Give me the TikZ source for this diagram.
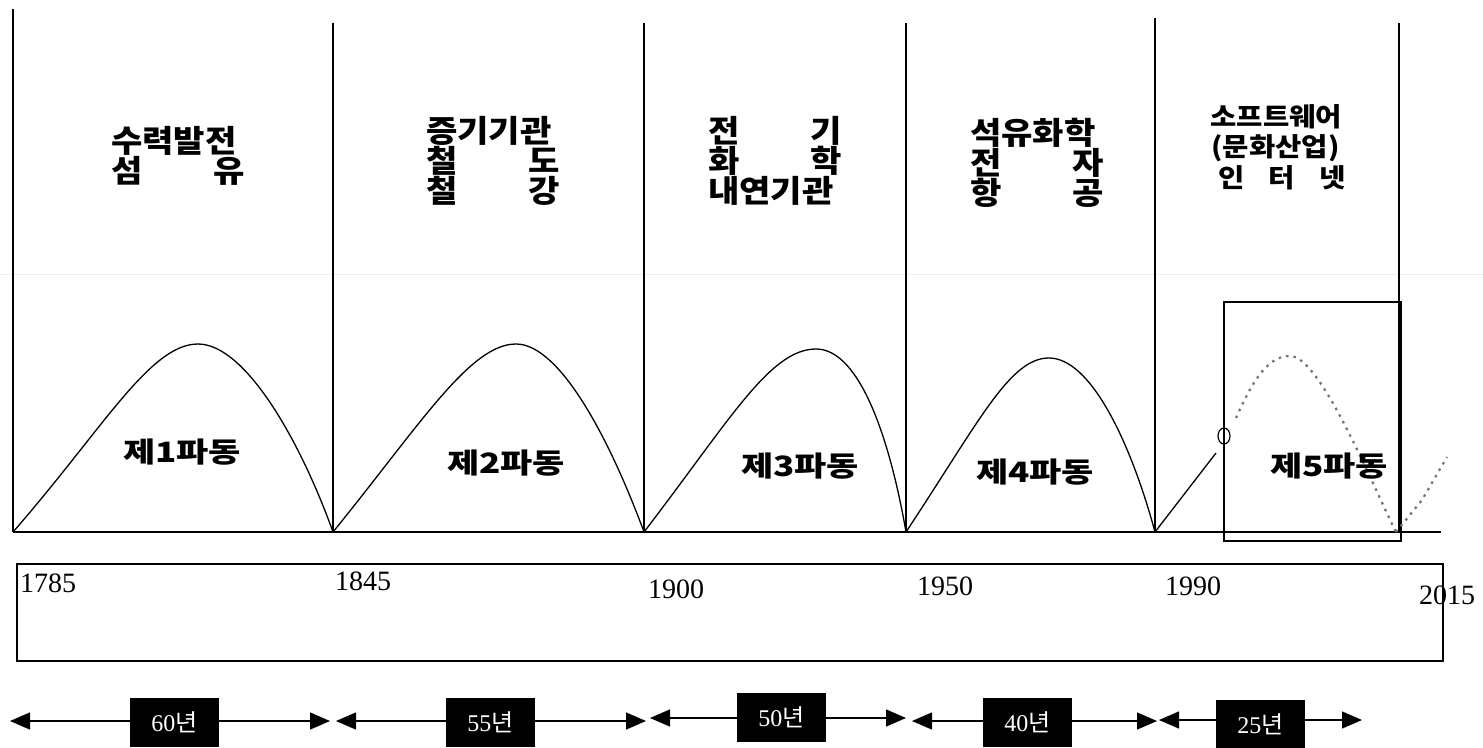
\documentclass[tikz,border=0pt]{standalone}
\usepackage{fontspec}
\setmainfont{Noto Sans CJK KR}
\newfontfamily\krwide{Noto Sans CJK KR}[FakeStretch=1.1]
\newfontfamily\krwider{Noto Sans CJK KR}[FakeStretch=1.25]
\newfontfamily\digits{Liberation Serif}
\usetikzlibrary{arrows.meta}
\usetikzlibrary{positioning}
\newcommand{\jrow}[2][134pt]{\makebox[#1][s]{#2}}
\tikzset{
  sanup/.style={align=center, inner sep=0pt, font=\krwide\bfseries\fontsize{31}{29}\selectfont},
  padong/.style={inner sep=0pt, font=\krwider\bfseries\fontsize{28}{28}\selectfont},
  yeondo/.style={inner sep=0pt, font=\digits\fontsize{28}{28}\selectfont},
  gigan/.style={fill=black, text=white, minimum width=89pt, minimum height=49pt, inner sep=0pt, font=\fontsize{24}{24}\selectfont},
  gyeonggye/.style={line width=1.6pt},
  gokseon/.style={line width=1.3pt, line join=round},
  jeomseon/.style={line width=2.2pt, black!55, dash pattern=on 2.5pt off 5pt},
  seta/.style={{Triangle[length=20pt,width=17pt]}-{Triangle[length=20pt,width=17pt]}, line width=1.3pt},
}

\begin{document}
\begin{tikzpicture}[x=1pt, y=-1pt]
  \useasboundingbox[fill=white] (0,0) rectangle (1483,747);
  \draw[black!7, line width=1pt] (0,274) -- (1483,274);

  % period dividers and base line
  \draw[gyeonggye] (13,9) -- (13,532);
  \draw[gyeonggye] (333,23) -- (333,532);
  \draw[gyeonggye] (644,23) -- (644,532);
  \draw[gyeonggye] (906,23) -- (906,532);
  \draw[gyeonggye] (1155,18) -- (1155,532);
  \draw[gyeonggye] (1399,23) -- (1399,532);
  \draw[gyeonggye] (13,532) -- (1441,532);
  \draw[gyeonggye] (1224,302) rectangle (1401,541);

  \node[sanup] (sanup1) at (178,156) {\jrow{수력발전}\\\jrow{섬\hfill 유}};
  \node[sanup] (sanup2) at (493,161) {\jrow{증기기관}\\\jrow{철\hfill 도}\\\jrow{철\hfill 강}};
  \node[sanup] (sanup3) at (775,161) {\jrow{전\hfill 기}\\\jrow{화\hfill 학}\\\jrow{내연기관}};
  \node[sanup] (sanup4) at (1037,163) {\jrow{석유화학}\\\jrow{전\hfill 자}\\\jrow{항\hfill 공}};
  \node[sanup, font=\krwide\bfseries\fontsize{26}{30.5}\selectfont] (sanup5) at (1282,147)
    {\jrow[143pt]{소프트웨어}\\\jrow[141pt]{(문화산업)}\\\jrow[128pt]{인\hfill 터\hfill 넷}};

  % waves
  \draw[gokseon] (13,532) .. controls (103,429) and (150,344) .. (198,344)
    .. controls (245,344) and (300,440) .. (333,532);
  \draw[gokseon] (333,532) .. controls (420,425) and (470,344) .. (516,344)
    .. controls (560,344) and (610,440) .. (644,532);
  \draw[gokseon] (644,532) .. controls (730,420) and (770,349) .. (816,349)
    .. controls (860,349) and (890,440) .. (906,532);
  \draw[gokseon] (906,532) .. controls (980,420) and (1010,358) .. (1049,358)
    .. controls (1090,358) and (1130,440) .. (1155,532);
  \draw[gokseon] (1155,532) -- (1216,453);
  \draw[line width=1.2pt] (1224,436) ellipse [x radius=6, y radius=8];
  \draw[jeomseon] (1236,418) .. controls (1255,375) and (1270,356) .. (1290,356)
    .. controls (1320,356) and (1370,480) .. (1396,532);
  \draw[jeomseon] (1396,532) -- (1422,500) -- (1447,457);

  \node[padong] (padong1) at (182,452) {제1파동};
  \node[padong] (padong2) at (506,463) {제2파동};
  \node[padong] (padong3) at (800,466) {제3파동};
  \node[padong] (padong4) at (1035,472) {제4파동};
  \node[padong] (padong5) at (1329,466) {제5파동};

  % years
  \draw[gyeonggye, line width=1.4pt] (17,564) rectangle (1443,661);
  \node[yeondo] (y1785) at (48,583) {1785};
  \node[yeondo] (y1845) at (363,581) {1845};
  \node[yeondo] (y1900) at (676,589) {1900};
  \node[yeondo] (y1950) at (945,586) {1950};
  \node[yeondo] (y1990) at (1193,586) {1990};
  \node[yeondo] (y2015) at (1447,595) {2015};

  % cycle lengths
  \coordinate (s1) at (10,721);   \coordinate (e1) at (330,721);
  \coordinate (s2) at (336,721);  \coordinate (e2) at (646,721);
  \coordinate (s3) at (650,718);  \coordinate (e3) at (906,718);
  \coordinate (s4) at (912,721);  \coordinate (e4) at (1157,721);
  \coordinate (s5) at (1159,720); \coordinate (e5) at (1362,720);
  \draw[seta] (s1) -- (e1);
  \draw[seta] (s2) -- (e2);
  \draw[seta] (s3) -- (e3);
  \draw[seta] (s4) -- (e4);
  \draw[seta] (s5) -- (e5);
  \node[gigan] (gigan1) at (174.5,722.5) {{\digits 60}년};
  \node[gigan] (gigan2) at (490.5,722.5) {{\digits 55}년};
  \node[gigan] (gigan3) at (781.5,717) {{\digits 50}년};
  \node[gigan] (gigan4) at (1027.5,722.5) {{\digits 40}년};
  \node[gigan] (gigan5) at (1260.5,724) {{\digits 25}년};
\end{tikzpicture}
\end{document}
